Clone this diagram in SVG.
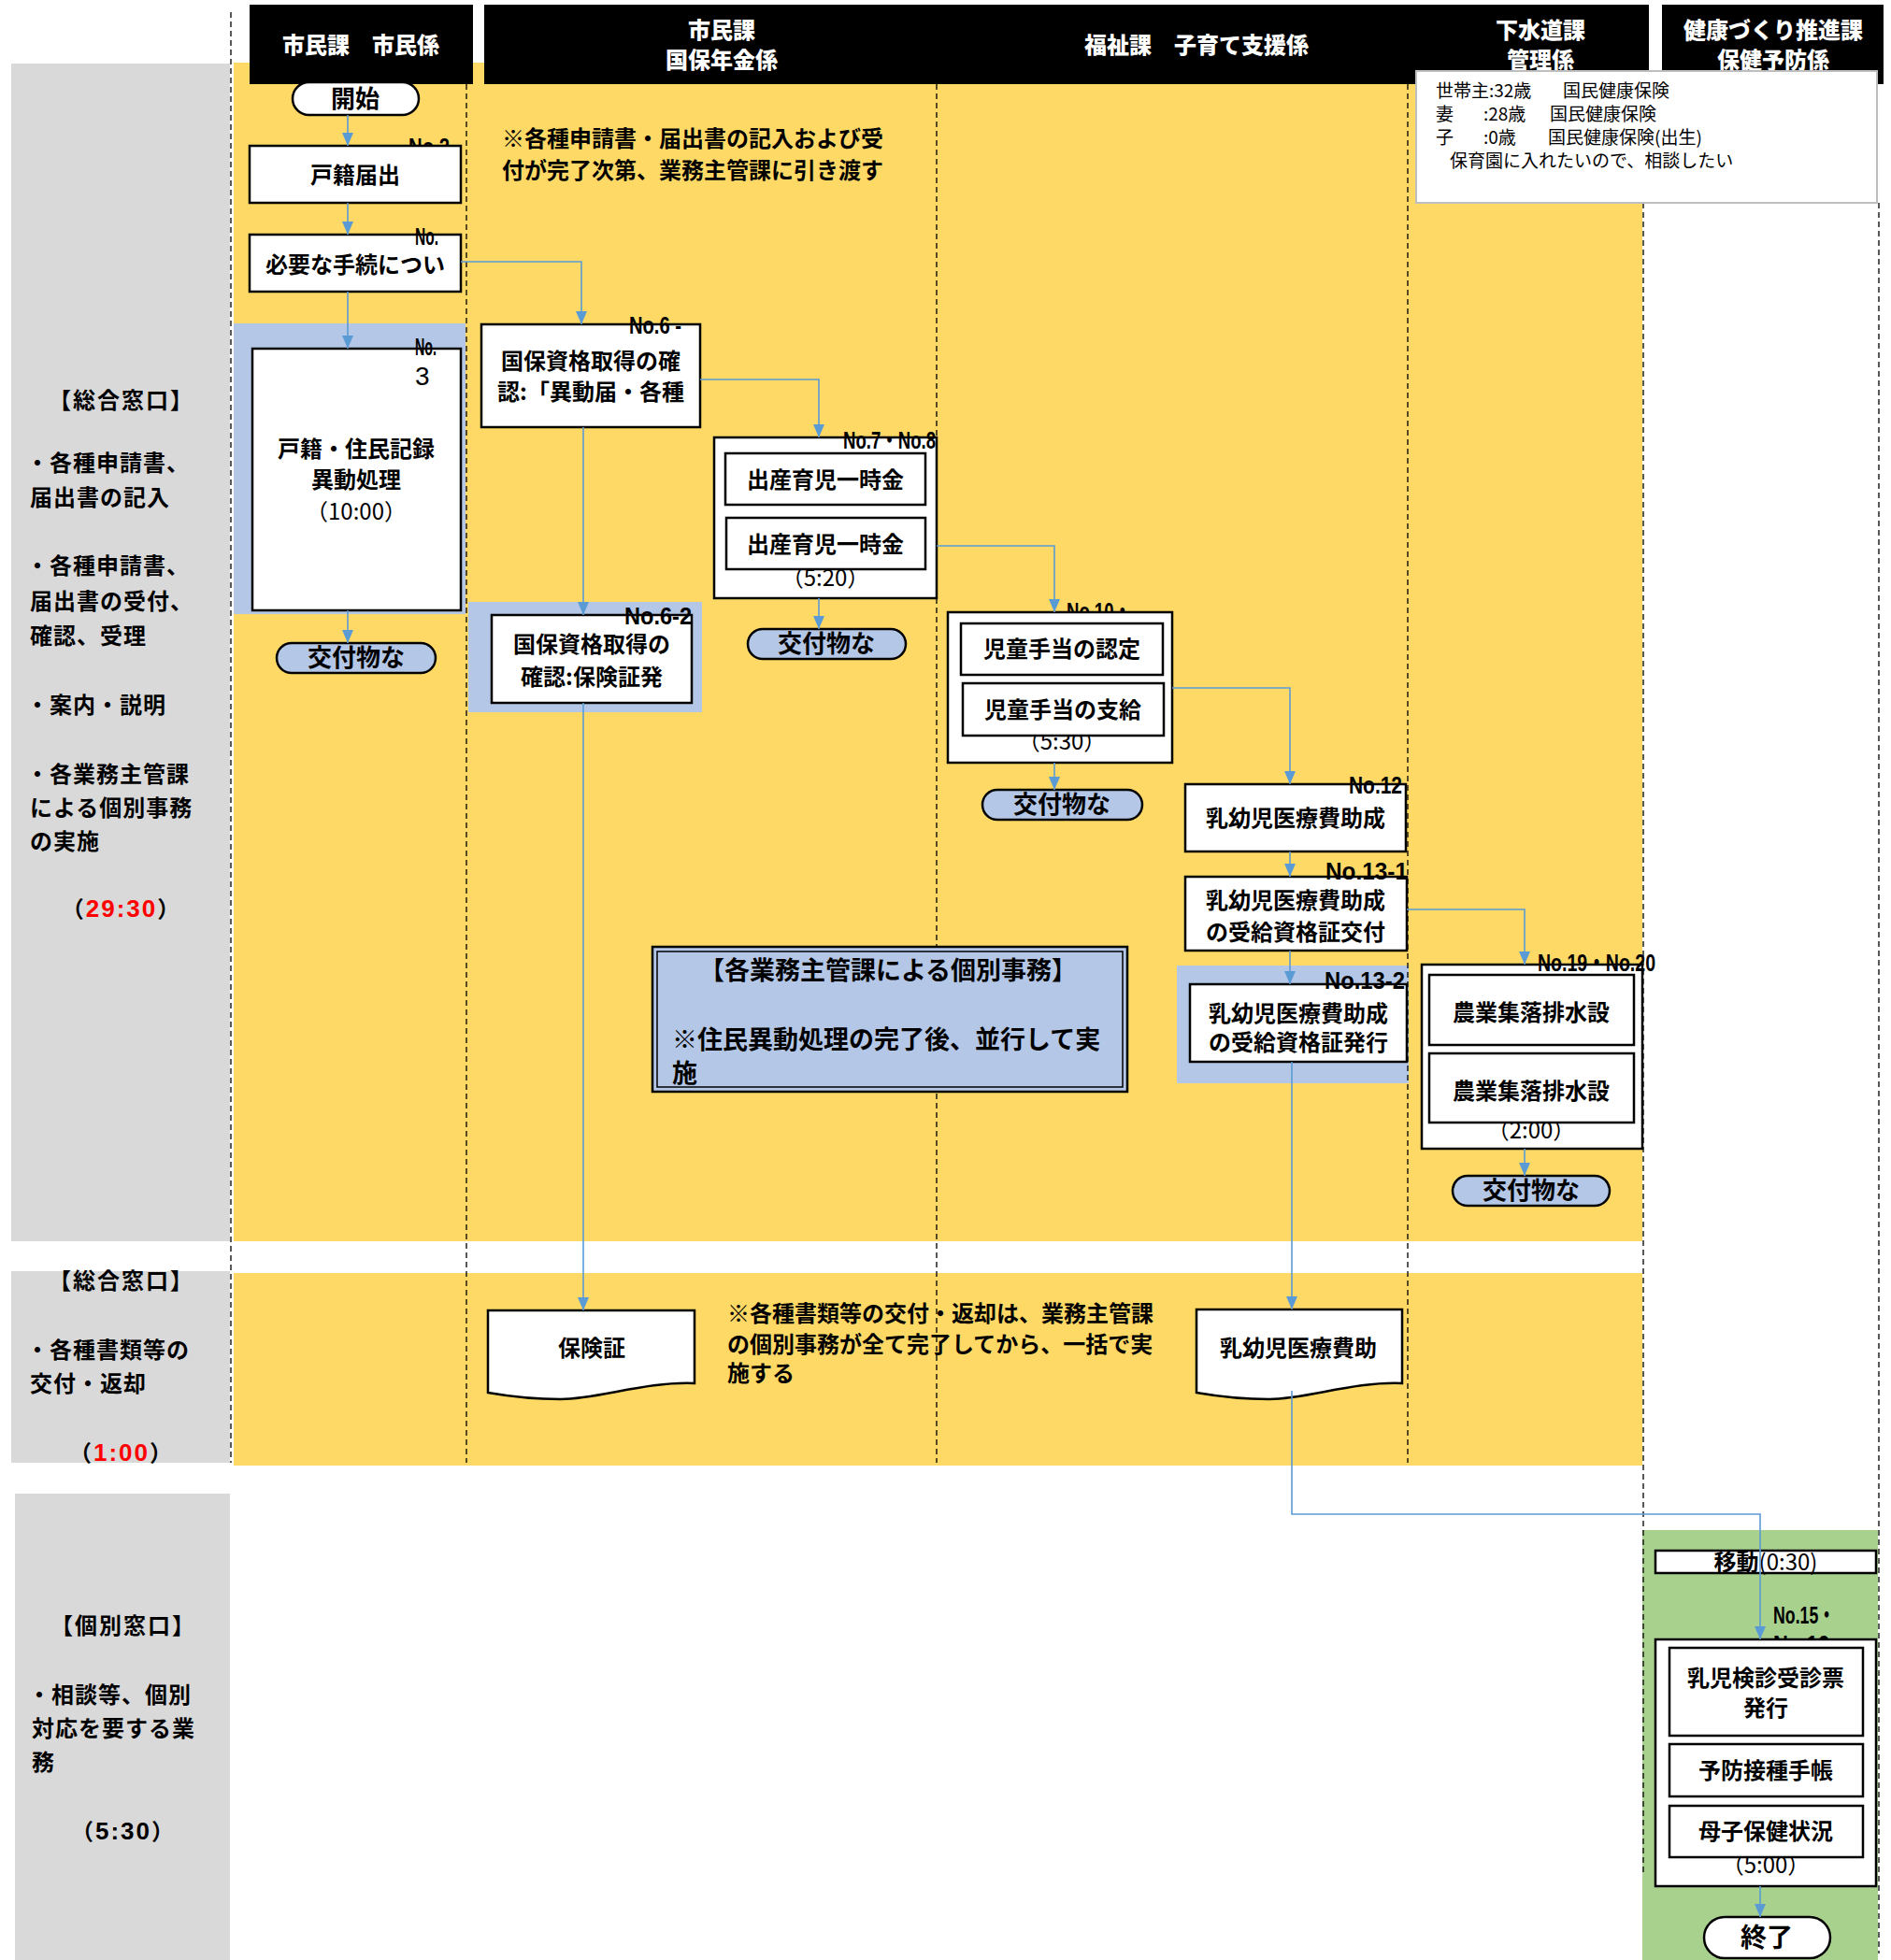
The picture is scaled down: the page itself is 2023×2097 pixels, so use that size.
<svg xmlns="http://www.w3.org/2000/svg" width="2023" height="2097" viewBox="0 0 2023 2097">
<style>
.t{font-family:"Noto Sans CJK JP","Noto Sans CJK SC",sans-serif;font-weight:700;font-size:24px;text-anchor:middle;fill:#000}
.r{font-family:"Noto Sans CJK JP",sans-serif;font-weight:400;font-size:24px;text-anchor:middle;fill:#000}
.hd{font-family:"Noto Sans CJK JP",sans-serif;font-weight:900;font-size:24px;text-anchor:middle;fill:#fff}
.lp{font-family:"Noto Sans CJK JP",sans-serif;font-weight:700;font-size:24px;fill:#000;letter-spacing:1px}
.lh{font-family:"Noto Sans CJK JP",sans-serif;font-weight:700;font-size:24px;fill:#000;text-anchor:middle;letter-spacing:2px}
.dg{font-family:"Liberation Sans",sans-serif;font-weight:700;font-size:26px;letter-spacing:2px}
.nt{font-family:"Noto Sans CJK JP",sans-serif;font-weight:700;font-size:24px;fill:#000}
.inf{font-family:"Noto Sans CJK JP",sans-serif;font-weight:400;font-size:19px;fill:#000}
.no{font-family:"Liberation Sans","Noto Sans CJK JP",sans-serif;font-weight:700;font-size:26px;fill:#000}
.red{fill:#ff0000}
.box{fill:#fff;stroke:#000;stroke-width:2.5}
.pill{fill:#b4c7e7;stroke:#000;stroke-width:2.5}
.term{fill:#fff;stroke:#000;stroke-width:2.5}
.dash{stroke:#000;stroke-width:1.3;stroke-dasharray:6 4;fill:none}
.conn{fill:none;stroke:#5b9bd5;stroke-width:1.6}
</style>
<defs>
<marker id="ah" markerUnits="userSpaceOnUse" markerWidth="14" markerHeight="12" refX="14" refY="6" orient="auto">
<path d="M0,0 L14,6 L0,12 z" fill="#5b9bd5"/>
</marker>
</defs>
<rect x="0" y="0" width="2023" height="2097" fill="#fff"/>

<g id="backgrounds">
<rect x="12" y="68" width="234" height="1260" fill="#d9d9d9"/>
<rect x="12" y="1360" width="234" height="205" fill="#d9d9d9"/>
<rect x="16" y="1598" width="230" height="499" fill="#d9d9d9"/>
<rect x="250" y="67" width="1507" height="1261" fill="#ffd966"/>
<rect x="250" y="1362" width="1507" height="206" fill="#ffd966"/>
<rect x="1757" y="1637" width="252" height="460" fill="#a9d18e"/>
<rect x="250" y="346" width="248" height="311" fill="#b4c7e7"/>
<rect x="501" y="644" width="250" height="118" fill="#b4c7e7"/>
<rect x="1259" y="1033" width="248" height="126" fill="#b4c7e7"/>
</g>

<g id="lanes">
<line class="dash" x1="247" y1="13" x2="247" y2="1565"/>
<line class="dash" x1="499" y1="90" x2="499" y2="1565"/>
<line class="dash" x1="1002" y1="90" x2="1002" y2="1565"/>
<line class="dash" x1="1506" y1="90" x2="1506" y2="1565"/>
<line class="dash" x1="1758" y1="217" x2="1758" y2="2005"/>
<line class="dash" x1="2010" y1="217" x2="2010" y2="2090"/>
</g>

<g id="headers">
<rect x="267" y="5" width="239" height="85" fill="#000"/>
<rect x="518" y="5" width="484" height="85" fill="#000"/>
<rect x="1002" y="5" width="508" height="85" fill="#000"/>
<rect x="1510" y="5" width="254" height="85" fill="#000"/>
<rect x="1778" y="5" width="237" height="85" fill="#000"/>
<text class="hd" x="386" y="57">市民課　市民係</text>
<text class="hd" x="772" y="41">市民課</text>
<text class="hd" x="772" y="73">国保年金係</text>
<text class="hd" x="1280" y="57">福祉課　子育て支援係</text>
<text class="hd" x="1648" y="41">下水道課</text>
<text class="hd" x="1648" y="73">管理係</text>
<text class="hd" x="1897" y="41">健康づくり推進課</text>
<text class="hd" x="1897" y="73">保健予防係</text>
</g>

<g id="info">
<rect x="1515" y="76" width="493" height="141" fill="#fff" stroke="#bfbfbf" stroke-width="2"/>
<text class="inf" y="104"><tspan x="1536">世帯主:32歳</tspan><tspan x="1672">国民健康保険</tspan></text>
<text class="inf" y="129"><tspan x="1536">妻</tspan><tspan x="1587">:28歳</tspan><tspan x="1658">国民健康保険</tspan></text>
<text class="inf" y="154"><tspan x="1536">子</tspan><tspan x="1587">:0歳</tspan><tspan x="1656">国民健康保険(出生)</tspan></text>
<text class="inf" y="179"><tspan x="1551">保育園に入れたいので、相談したい</tspan></text>
</g>

<g id="left-panels">
<text class="lh" x="130" y="437">【総合窓口】</text>
<text class="lp" x="28" y="504">・各種申請書、</text>
<text class="lp" x="32" y="541">届出書の記入</text>
<text class="lp" x="28" y="614">・各種申請書、</text>
<text class="lp" x="32" y="652">届出書の受付、</text>
<text class="lp" x="32" y="689">確認、受理</text>
<text class="lp" x="28" y="763">・案内・説明</text>
<text class="lp" x="28" y="837">・各業務主管課</text>
<text class="lp" x="32" y="873">による個別事務</text>
<text class="lp" x="32" y="909">の実施</text>
<text class="lh" x="130" y="981">（<tspan class="dg red">29:30</tspan>）</text>
<text class="lh" x="130" y="1379">【総合窓口】</text>
<text class="lp" x="28" y="1453">・各種書類等の</text>
<text class="lp" x="32" y="1489">交付・返却</text>
<text class="lh" x="130" y="1563">（<tspan class="dg red">1:00</tspan>）</text>
<text class="lh" x="132" y="1748">【個別窓口】</text>
<text class="lp" x="30" y="1822">・相談等、個別</text>
<text class="lp" x="34" y="1858">対応を要する業</text>
<text class="lp" x="34" y="1894">務</text>
<text class="lh" x="132" y="1968">（<tspan class="dg">5:30</tspan>）</text>
</g>

<g id="notes">
<text class="nt" x="537" y="157">※各種申請書・届出書の記入および受</text>
<text class="nt" x="537" y="191">付が完了次第、業務主管課に引き渡す</text>
<text class="nt" x="778" y="1414">※各種書類等の交付・返却は、業務主管課</text>
<text class="nt" x="778" y="1447">の個別事務が全て完了してから、一括で実</text>
<text class="nt" x="778" y="1478">施する</text>
</g>

<g id="n-kobetsu">
<rect x="698" y="1013" width="508" height="155" fill="#b4c7e7" stroke="#000" stroke-width="2.5"/>
<rect x="703" y="1018" width="498" height="145" fill="none" stroke="#000" stroke-width="1.5"/>
<text class="t" x="950" y="1048" style="font-size:27px">【各業務主管課による個別事務】</text>
<text class="nt" x="719" y="1122" style="font-size:27px">※住民異動処理の完了後、並行して実</text>
<text class="nt" x="719" y="1158" style="font-size:27px">施</text>
</g>

<g id="n-start">
<rect class="term" x="313" y="88" width="135" height="35" rx="17.5"/>
<text class="t" x="380" y="115" style="font-size:26px">開始</text>
</g>

<g id="n-koseki">
<text class="no" x="437" y="166" textLength="44" lengthAdjust="spacingAndGlyphs">No.2</text>
<rect class="box" x="267" y="156" width="226" height="61"/>
<text class="t" x="380" y="196">戸籍届出</text>
</g>

<g id="n-hitsuyo">
<rect class="box" x="267" y="251" width="226" height="61"/>
<text class="t" x="380" y="292">必要な手続につい</text>
<text class="no" x="444" y="262" textLength="25" lengthAdjust="spacingAndGlyphs">No.</text>
</g>

<g id="n-jumin">
<rect class="box" x="270" y="373" width="223" height="280"/>
<text class="no" x="444" y="380" textLength="23" lengthAdjust="spacingAndGlyphs">No.</text>
<text class="no" x="444" y="412" style="font-size:28px;font-weight:400">3</text>
<text class="t" x="381" y="489">戸籍・住民記録</text>
<text class="t" x="381" y="522">異動処理</text>
<text class="r" x="381" y="556">（10:00）</text>
</g>

<g id="n-kofu1">
<rect class="pill" x="296" y="688" width="170" height="32" rx="16"/>
<text class="t" x="381" y="713" style="font-size:26px">交付物な</text>
</g>

<g id="n-kokuho">
<rect class="box" x="515" y="347" width="234" height="110"/>
<text class="t" x="632" y="395">国保資格取得の確</text>
<text class="t" x="632" y="428">認:「異動届・各種</text>
<text class="no" x="673" y="357" textLength="56" lengthAdjust="spacingAndGlyphs">No.6 -</text>
</g>

<g id="n-kokuho2">
<rect class="box" x="526" y="658" width="214" height="94"/>
<text class="t" x="633" y="698">国保資格取得の</text>
<text class="t" x="633" y="733">確認:保険証発</text>
<text class="no" x="668" y="668" textLength="72" lengthAdjust="spacingAndGlyphs">No.6-2</text>
</g>

<g id="n-shussan">
<rect class="box" x="764" y="468" width="238" height="172"/>
<text class="r" x="883" y="627">（5:20）</text>
<rect class="box" x="776" y="485" width="214" height="55"/>
<text class="t" x="883" y="522">出産育児一時金</text>
<rect class="box" x="777" y="554" width="213" height="55"/>
<text class="t" x="883" y="591">出産育児一時金</text>
<text class="no" x="902" y="480" textLength="99" lengthAdjust="spacingAndGlyphs">No.7・No.8</text>
</g>

<g id="n-kofu2">
<rect class="pill" x="800" y="673" width="169" height="32" rx="16"/>
<text class="t" x="884" y="698" style="font-size:26px">交付物な</text>
</g>

<g id="n-jido">
<text class="no" x="1141" y="663" textLength="69" lengthAdjust="spacingAndGlyphs">No.10・</text>
<rect class="box" x="1014" y="655" width="240" height="161"/>
<text class="r" x="1136" y="802">（5:30）</text>
<rect class="box" x="1028" y="667" width="216" height="55"/>
<text class="t" x="1136" y="703">児童手当の認定</text>
<rect class="box" x="1030" y="731" width="215" height="56"/>
<text class="t" x="1137" y="768">児童手当の支給</text>
</g>

<g id="n-kofu3">
<rect class="pill" x="1051" y="845" width="171" height="32" rx="16"/>
<text class="t" x="1136" y="870" style="font-size:26px">交付物な</text>
</g>

<g id="n-nyuyoji">
<rect class="box" x="1268" y="839" width="236" height="72"/>
<text class="t" x="1386" y="884">乳幼児医療費助成</text>
<text class="no" x="1443" y="849" textLength="57" lengthAdjust="spacingAndGlyphs">No.12</text>
</g>

<g id="n-nyuyoji-kofu">
<rect class="box" x="1268" y="938" width="237" height="79"/>
<text class="t" x="1386" y="972">乳幼児医療費助成</text>
<text class="t" x="1386" y="1006">の受給資格証交付</text>
<text class="no" x="1418" y="941" textLength="88" lengthAdjust="spacingAndGlyphs">No.13-1</text>
</g>

<g id="n-nyuyoji-hakko">
<rect class="box" x="1273" y="1053" width="232" height="83"/>
<text class="t" x="1389" y="1093">乳幼児医療費助成</text>
<text class="t" x="1389" y="1124">の受給資格証発行</text>
<text class="no" x="1417" y="1058" textLength="86" lengthAdjust="spacingAndGlyphs">No.13-2</text>
</g>

<g id="n-nogyo">
<rect class="box" x="1521" y="1032" width="236" height="197"/>
<text class="r" x="1638" y="1218">（2:00）</text>
<rect class="box" x="1529" y="1043" width="219" height="75"/>
<text class="t" x="1638" y="1092">農業集落排水設</text>
<rect class="box" x="1529" y="1127" width="219" height="74"/>
<text class="t" x="1638" y="1176">農業集落排水設</text>
<text class="no" x="1645" y="1039" textLength="126" lengthAdjust="spacingAndGlyphs">No.19・No.20</text>
</g>

<g id="n-kofu4">
<rect class="pill" x="1554" y="1258" width="168" height="32" rx="16"/>
<text class="t" x="1638" y="1283" style="font-size:26px">交付物な</text>
</g>

<g id="n-hokensho">
<path class="box" d="M522,1402 H743 V1480 C690,1478 640,1497 600,1497 C570,1497 545,1494 522,1490 Z"/>
<text class="t" x="633" y="1451">保険証</text>
</g>

<g id="n-nyuyoji-doc">
<path class="box" d="M1280,1401 H1500 V1480 C1447,1478 1398,1497 1358,1497 C1328,1497 1303,1494 1280,1490 Z"/>
<text class="t" x="1389" y="1451">乳幼児医療費助</text>
</g>

<g id="n-ido">
<rect class="box" x="1771" y="1659" width="236" height="24"/>
<text class="t" x="1889" y="1680">移動<tspan style="font-weight:400">(0:30)</tspan></text>
</g>

<g id="n-kenshin">
<text class="no" x="1897" y="1737" textLength="66" lengthAdjust="spacingAndGlyphs">No.15・</text>
<text class="no" x="1897" y="1768" textLength="60" lengthAdjust="spacingAndGlyphs">No.16</text>
<rect class="box" x="1771" y="1754" width="236" height="264"/>
<text class="r" x="1889" y="2004">（5:00）</text>
<rect class="box" x="1786" y="1763" width="207" height="94"/>
<text class="t" x="1889" y="1804">乳児検診受診票</text>
<text class="t" x="1889" y="1836">発行</text>
<rect class="box" x="1786" y="1866" width="207" height="56"/>
<text class="t" x="1889" y="1903">予防接種手帳</text>
<rect class="box" x="1786" y="1932" width="207" height="55"/>
<text class="t" x="1889" y="1968">母子保健状況</text>
</g>

<g id="n-end">
<rect class="term" x="1823" y="2051" width="135" height="44" rx="22"/>
<text class="t" x="1890" y="2083" style="font-size:28px">終了</text>
</g>

<g id="connectors">
<path class="conn" d="M372,123 V156" marker-end="url(#ah)"/>
<path class="conn" d="M372,217 V251" marker-end="url(#ah)"/>
<path class="conn" d="M372,312 V373" marker-end="url(#ah)"/>
<path class="conn" d="M493,280 H622 V347" marker-end="url(#ah)"/>
<path class="conn" d="M372,653 V688" marker-end="url(#ah)"/>
<path class="conn" d="M749,406 H876 V468" marker-end="url(#ah)"/>
<path class="conn" d="M624,457 V658" marker-end="url(#ah)"/>
<path class="conn" d="M624,752 V1402" marker-end="url(#ah)"/>
<path class="conn" d="M876,640 V673" marker-end="url(#ah)"/>
<path class="conn" d="M1002,584 H1128 V655" marker-end="url(#ah)"/>
<path class="conn" d="M1128,816 V845" marker-end="url(#ah)"/>
<path class="conn" d="M1254,736 H1380 V839" marker-end="url(#ah)"/>
<path class="conn" d="M1380,911 V938" marker-end="url(#ah)"/>
<path class="conn" d="M1380,1017 V1053" marker-end="url(#ah)"/>
<path class="conn" d="M1505,973 H1631 V1032" marker-end="url(#ah)"/>
<path class="conn" d="M1382,1136 V1401" marker-end="url(#ah)"/>
<path class="conn" d="M1631,1229 V1258" marker-end="url(#ah)"/>
<path class="conn" d="M1382,1488 V1620 H1883 V1754" marker-end="url(#ah)"/>
<path class="conn" d="M1883,2018 V2051" marker-end="url(#ah)"/>
</g>
</svg>
